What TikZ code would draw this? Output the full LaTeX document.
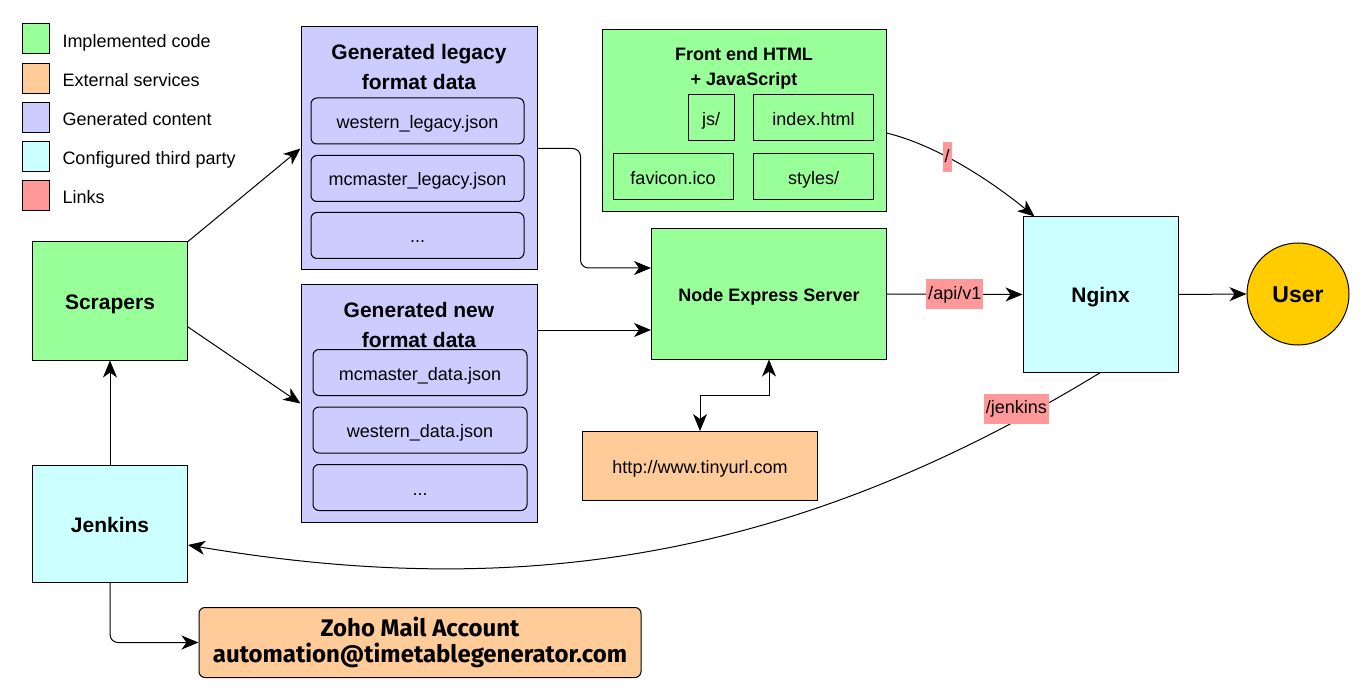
\documentclass[tikz,border=0pt]{standalone}
\usepackage{fontspec}
\setmainfont{Liberation Sans}
\newfontfamily\zohofont{Fira Sans}
\usetikzlibrary{arrows.meta}
\definecolor{implgreen}{HTML}{99FF99}
\definecolor{extorange}{HTML}{FFCC99}
\definecolor{genpurple}{HTML}{CCCCFF}
\definecolor{thirdcyan}{HTML}{CCFFFF}
\definecolor{linkpink}{HTML}{FF9999}
\definecolor{useryellow}{HTML}{FFCC00}

\begin{document}
\begin{tikzpicture}[x=1pt, y=-1pt, line width=1pt,
		>={Stealth[length=17pt, width=14pt, inset=5pt]},
		box/.style={draw=black, line width=1pt, inner sep=0pt, text height=15pt, text depth=0pt, font=\fontsize{18}{22}\selectfont},
		bigbox/.style={box, text height=17pt, font=\fontsize{21}{25}\selectfont\bfseries},
		item/.style={box, rounded corners=6pt, fill=genpurple},
		swatch/.style={draw=black, line width=1pt, minimum width=27pt, minimum height=30pt, inner sep=0pt},
		legtext/.style={anchor=west, inner sep=0pt, text height=15pt, text depth=0pt, font=\fontsize{18}{22}\selectfont},
		link/.style={fill=linkpink, inner xsep=2pt, inner ysep=6pt, text height=14pt, text depth=4pt, font=\fontsize{18}{22}\selectfont}]
	\useasboundingbox (0,0) rectangle (1372,700);

	\node[swatch, fill=implgreen] (swimpl) at (35.5,39) {};
	\node[swatch, fill=extorange] (swext) at (35.5,78.5) {};
	\node[swatch, fill=genpurple] (swgen) at (35.5,117.5) {};
	\node[swatch, fill=thirdcyan] (swthird) at (35.5,157) {};
	\node[swatch, fill=linkpink] (swlink) at (35.5,196) {};
	\node[legtext] (lgimpl) at (62,40) {Implemented code};
	\node[legtext] (lgext) at (62,79) {External services};
	\node[legtext] (lggen) at (62,118) {Generated content};
	\node[legtext] (lgthird) at (62,157.5) {Configured third party};
	\node[legtext] (lglink) at (62,196.5) {Links};

	\node[bigbox, fill=implgreen, minimum width=155pt, minimum height=118pt] (scrapers) at (110,301) {Scrapers};
	\node[bigbox, fill=thirdcyan, minimum width=155pt, minimum height=117pt] (jenkins) at (110,523.5) {Jenkins};
	\node[draw=black, line width=1pt, fill=extorange, rounded corners=6pt, minimum width=442pt, minimum height=70pt, align=center,
		font=\fontsize{24}{26}\zohofont\bfseries] (zoho) at (420,642.5) {Zoho Mail Account\\automation@timetablegenerator.com};

	\node[box, fill=genpurple, minimum width=236pt, minimum height=243pt] (legacy) at (419,148.5) {};
	\node[align=center, inner sep=0pt, font=\fontsize{21}{30}\selectfont\bfseries] (legacytitle) at (419,67) {Generated legacy\\format data};
	\node[item, minimum width=213pt, minimum height=46pt] (westlegacy) at (417.5,121) {western\_legacy.json};
	\node[item, minimum width=213pt, minimum height=46pt] (maclegacy) at (417.5,178.5) {mcmaster\_legacy.json};
	\node[item, minimum width=213pt, minimum height=46pt] (morelegacy) at (417.5,235.5) {...};

	\node[box, fill=genpurple, minimum width=236pt, minimum height=237pt] (newdata) at (419,403.5) {};
	\node[align=center, inner sep=0pt, font=\fontsize{21}{30}\selectfont\bfseries] (newtitle) at (419,325) {Generated new\\format data};
	\node[item, minimum width=214pt, minimum height=46pt] (macdata) at (420,372.5) {mcmaster\_data.json};
	\node[item, minimum width=214pt, minimum height=46pt] (westdata) at (420,430) {western\_data.json};
	\node[item, minimum width=214pt, minimum height=46pt] (moredata) at (420,487.5) {...};

	\node[box, fill=implgreen, minimum width=284pt, minimum height=182pt] (front) at (744,121) {};
	\node[align=center, inner sep=0pt, font=\fontsize{18}{25}\selectfont\bfseries] (fronttitle) at (744,68.5) {Front end HTML\\+ JavaScript};
	\node[box, minimum width=46pt, minimum height=46pt] (jsdir) at (711,118) {js/};
	\node[box, minimum width=120pt, minimum height=46pt] (index) at (813.5,118) {index.html};
	\node[box, minimum width=120pt, minimum height=46pt] (favicon) at (673,177) {favicon.ico};
	\node[box, minimum width=120pt, minimum height=46pt] (styles) at (813.5,177) {styles/};

	\node[box, fill=implgreen, minimum width=235pt, minimum height=130pt, font=\fontsize{18}{22}\selectfont\bfseries] (server) at (769,294) {Node Express Server};
	\node[box, fill=extorange, minimum width=235pt, minimum height=69pt] (tinyurl) at (700,466) {http://www.tinyurl.com};
	\node[bigbox, fill=thirdcyan, minimum width=155pt, minimum height=155pt] (nginx) at (1100.5,294.5) {Nginx};
	\node[box, circle, fill=useryellow, minimum size=102pt, text height=18pt, font=\fontsize{23}{27}\selectfont\bfseries] (user) at (1298,294) {User};

	\coordinate (srvtop) at ([yshift=26pt]server.west);
	\coordinate (srvlow) at ([yshift=-36pt]server.west);

	\draw[->] (scrapers.north east) -- (legacy.west);
	\draw[->] ([yshift=-26pt]scrapers.east) -- (newdata.west);
	\draw[->] (jenkins.north) -- (scrapers.south);
	\draw[->, rounded corners=8pt] (jenkins.south) |- (zoho.west);
	\draw[->, rounded corners=8pt] (legacy.east) -- ++(43,0) |- (srvtop);
	\draw[->] (newdata.east |- srvlow) -- (srvlow);
	\draw[->] (server.east) -- (nginx.west) node[link, pos=0.5] {/api/v1};
	\draw[->] ([yshift=-12pt]front.east) .. controls (936,145) and (990,180) .. ([xshift=12pt]nginx.north west) node[link, pos=0.4] {/};
	\draw[->] (nginx.east) -- (user.west);
	\draw[->] (nginx.south) .. controls (803,554) and (532,603) .. ([yshift=-21.5pt]jenkins.east) node[link, pos=0.07, xshift=-22pt] {/jenkins};
	\draw[<->] (server.south) -- ++(0,36) -| (tinyurl.north);

\end{tikzpicture}
\end{document}
